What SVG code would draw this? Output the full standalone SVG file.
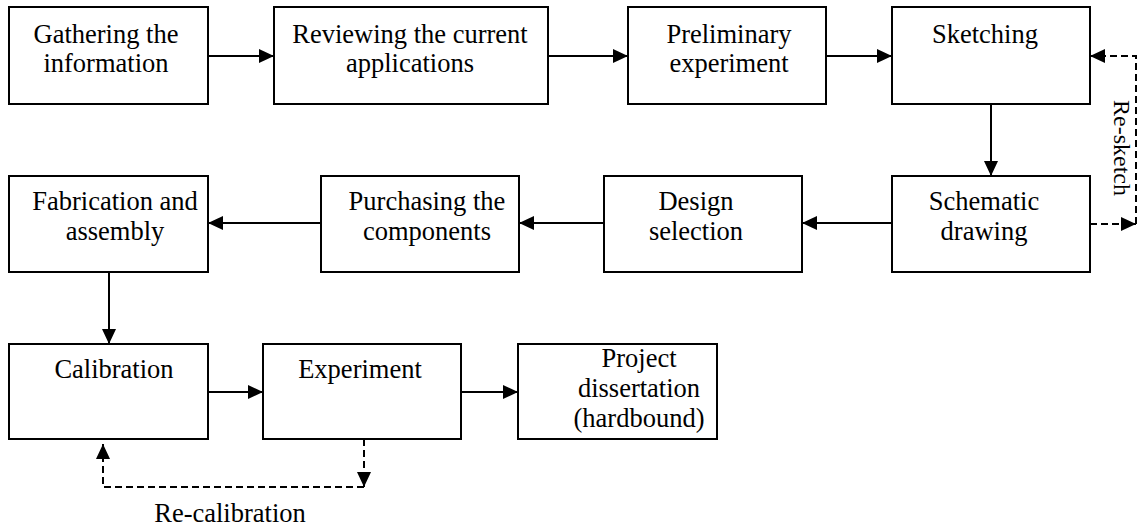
<svg xmlns="http://www.w3.org/2000/svg" width="1138" height="527" viewBox="0 0 1138 527">
  <style>
    .box { fill: #ffffff; stroke: #000000; stroke-width: 2; }
    .lbl { font-family: "Liberation Serif", "Times New Roman", serif; font-size: 26.5px; fill: #000000; text-anchor: middle; }
    .note { font-family: "Liberation Serif", "Times New Roman", serif; font-size: 24px; fill: #000000; }
    .link { fill: none; stroke: #000000; stroke-width: 2; }
    .dash { fill: none; stroke: #000000; stroke-width: 2; stroke-dasharray: 7 4; }
  </style>
  <defs>
    <marker id="head" markerUnits="userSpaceOnUse" markerWidth="16" markerHeight="14" refX="15" refY="7" orient="auto">
      <path d="M0,0 L15,7 L0,14 Z" fill="#000000"/>
    </marker>
  </defs>
  <rect width="1138" height="527" fill="#ffffff"/>

  <!-- connectors -->
  <g id="connectors">
    <line class="link" x1="208" y1="56" x2="274" y2="56" marker-end="url(#head)"/>
    <line class="link" x1="548" y1="56" x2="628" y2="56" marker-end="url(#head)"/>
    <line class="link" x1="826" y1="56" x2="892" y2="56" marker-end="url(#head)"/>
    <line class="link" x1="991" y1="104" x2="991" y2="176" marker-end="url(#head)"/>
    <line class="link" x1="892" y1="223" x2="802" y2="223" marker-end="url(#head)"/>
    <line class="link" x1="604" y1="223" x2="519" y2="223" marker-end="url(#head)"/>
    <line class="link" x1="321" y1="223" x2="208" y2="223" marker-end="url(#head)"/>
    <line class="link" x1="109" y1="272" x2="109" y2="344" marker-end="url(#head)"/>
    <line class="link" x1="208" y1="392" x2="263" y2="392" marker-end="url(#head)"/>
    <line class="link" x1="461" y1="392" x2="518" y2="392" marker-end="url(#head)"/>
    <!-- re-sketch loop -->
    <path class="dash" d="M1090,224 H1136" marker-end="url(#head)"/>
    <path class="dash" d="M1136,224 V56 H1090" marker-end="url(#head)"/>
    <text class="note" transform="translate(1114,100) rotate(90)">Re-sketch</text>
    <!-- re-calibration loop -->
    <path class="dash" d="M364,439 V487" marker-end="url(#head)"/>
    <path class="dash" d="M364,487 H103 V444" marker-end="url(#head)"/>
    <text class="lbl" x="230" y="522">Re-calibration</text>
  </g>

  <!-- row 1 -->
  <g id="gathering">
    <rect class="box" x="9" y="7" width="199" height="97"/>
    <text class="lbl" x="106" y="43">Gathering the</text>
    <text class="lbl" x="106" y="72">information</text>
  </g>
  <g id="reviewing">
    <rect class="box" x="274" y="7" width="274" height="97"/>
    <text class="lbl" x="410" y="43">Reviewing the current</text>
    <text class="lbl" x="410" y="72">applications</text>
  </g>
  <g id="preliminary">
    <rect class="box" x="628" y="7" width="198" height="97"/>
    <text class="lbl" x="729" y="43">Preliminary</text>
    <text class="lbl" x="729" y="72">experiment</text>
  </g>
  <g id="sketching">
    <rect class="box" x="892" y="7" width="198" height="97"/>
    <text class="lbl" x="985" y="43">Sketching</text>
  </g>

  <!-- row 2 -->
  <g id="schematic">
    <rect class="box" x="892" y="176" width="198" height="96"/>
    <text class="lbl" x="984" y="210">Schematic</text>
    <text class="lbl" x="984" y="240">drawing</text>
  </g>
  <g id="design">
    <rect class="box" x="604" y="176" width="198" height="96"/>
    <text class="lbl" x="696" y="210">Design</text>
    <text class="lbl" x="696" y="240">selection</text>
  </g>
  <g id="purchasing">
    <rect class="box" x="321" y="176" width="198" height="96"/>
    <text class="lbl" x="427" y="210">Purchasing the</text>
    <text class="lbl" x="427" y="240">components</text>
  </g>
  <g id="fabrication">
    <rect class="box" x="9" y="176" width="199" height="96"/>
    <text class="lbl" x="115" y="210">Fabrication and</text>
    <text class="lbl" x="115" y="240">assembly</text>
  </g>

  <!-- row 3 -->
  <g id="calibration">
    <rect class="box" x="9" y="344" width="199" height="95"/>
    <text class="lbl" x="114" y="378">Calibration</text>
  </g>
  <g id="experiment">
    <rect class="box" x="263" y="344" width="198" height="95"/>
    <text class="lbl" x="360" y="378">Experiment</text>
  </g>
  <g id="dissertation">
    <rect class="box" x="518" y="344" width="199" height="95"/>
    <text class="lbl" x="639" y="367">Project</text>
    <text class="lbl" x="639" y="397">dissertation</text>
    <text class="lbl" x="639" y="427">(hardbound)</text>
  </g>
</svg>
